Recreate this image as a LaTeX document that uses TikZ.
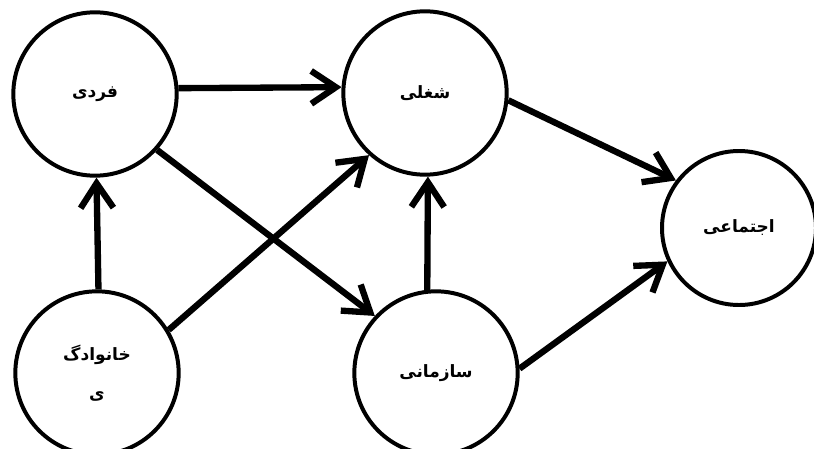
\documentclass[tikz,border=0pt]{standalone}
\usepackage{fontspec}
\newfontfamily\arabicfont[Script=Arabic, BoldFont={DejaVu Sans Bold}]{DejaVu Sans}
\TeXXeTstate=1
\usetikzlibrary{arrows.meta}

\begin{document}
\begin{tikzpicture}[x=0.03cm, y=-0.03cm,
    factor/.style={shape=circle, draw=black, fill=white, line width=3.4pt, inner sep=0pt,
        minimum size=4.9cm, align=center, font=\arabicfont\bfseries\fontsize{14.5}{17}\selectfont},
    link/.style={line width=5.4pt, -{Straight Barb[length=21pt, width=28pt]}}]

            \useasboundingbox (0,0) rectangle (814,448);

            \node[factor] (fardi) at (95,94) {\beginR فردی\endR};
            \node[factor] (shoghli) at (425,93) {\beginR شغلی\endR};
            \node[factor] (khanevadegi) at (97,373) {\beginR خانوادگ\endR\\[16pt]\beginR ی\endR};
            \node[factor] (sazmani) at (436,373) {\beginR سازمانی\endR};
            \node[factor, minimum size=4.62cm] (ejtemai) at (739,228) {\beginR اجتماعی\endR};

            \draw[link] (fardi.4) -- (shoghli.176);
            \draw[link] (fardi.-42) -- (sazmani.137);
            \draw[link] (khanevadegi.31) -- (shoghli.-132);
            \draw[link] (khanevadegi.89) -- (fardi.-89);
            \draw[link] (sazmani.96) -- (shoghli.-88);
            \draw[link] (shoghli.-5) -- (ejtemai.143);
            \draw[link] (sazmani.3) -- (ejtemai.205);

        \end{tikzpicture}
\end{document}
